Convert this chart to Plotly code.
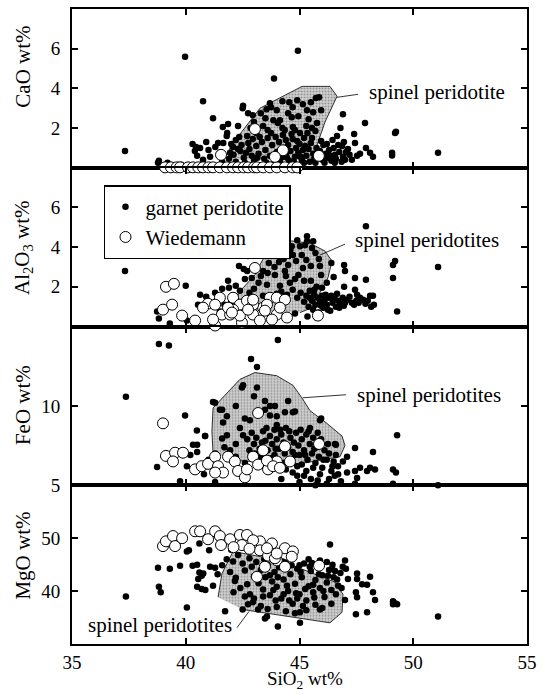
import plotly.graph_objects as go
from plotly.subplots import make_subplots

# ---------------- data (SiO2 wt%, oxide wt%) ----------------
cao_garnet = [
    (37.33,0.85),(39.97,5.6),(40.76,3.35),(38.78,0.25),(38.82,0.35),(39.2,0.25),(39.8,0.15),(40.45,1.05),
    (40.63,1.0),(40.5,0.6),(40.76,0.4),(41.07,0.55),(41.2,2.5),(41.63,2.05),(41.86,2.2),(42.3,2.1),(42.5,3.0),
    (42.52,3.12),(42.74,2.75),(41.42,1.25),(41.5,0.75),(42.08,1.05),(41.95,0.75),(43.88,4.5),(44.93,5.9),
    (40.3,1.2),(40.4,0.85),(40.9,1.3),(41.0,0.9),(41.3,1.05),(41.65,1.25),(41.8,1.6),(41.82,1.75),(42.0,1.2),
    (42.2,1.4),(42.35,1.55),(42.45,1.15),(42.7,1.6),(42.85,2.0),(43.0,2.3),(43.1,1.75),(43.3,2.75),(43.55,2.95),
    (43.75,3.05),(43.7,3.25),(44.0,2.9),(43.85,2.4),(44.05,2.25),(43.4,2.1),(44.14,2.4),(44.25,3.35),(44.55,3.3),
    (44.5,2.75),(44.66,2.55),(44.7,3.05),(44.9,3.4),(45.15,3.2),(45.33,2.9),(45.5,3.3),(45.72,3.52),(45.86,3.55),
    (45.6,2.8),(44.71,2.05),(45.02,1.75),(44.27,1.65),(45.77,2.25),(45.55,1.5),(44.8,1.9),(45.3,2.1),(45.7,1.85),
    (44.4,1.4),(44.9,1.35),(45.2,1.5),(46.65,1.6),(46.91,2.7),(46.87,1.1),(47.13,0.95),(47.4,1.7),(47.44,1.25),
    (47.53,0.6),(47.66,0.7),(47.88,2.25),(47.92,1.0),(48.1,0.75),(48.23,0.55),(49.07,0.75),(49.07,0.62),
    (49.2,1.75),(49.24,1.82),(51.09,0.75),(46.91,0.55),(46.56,0.65),(46.8,2.0),(46.95,1.3),
    (41.6,0.3),(41.9,0.45),(42.1,0.65),(42.2,0.3),(42.4,0.85),(42.55,0.5),(42.6,0.25),(42.8,0.95),(42.9,0.6),
    (43.0,0.35),(43.1,1.1),(43.2,0.7),(43.35,1.3),(43.45,0.45),(43.5,0.9),(43.6,1.5),(43.7,0.6),(43.8,1.15),
    (43.9,0.35),(44.0,0.8),(44.1,1.3),(44.2,0.5),(44.3,1.0),(44.4,0.7),(44.5,1.15),(44.55,0.35),(44.6,0.85),
    (44.7,1.45),(44.8,0.55),(44.85,1.0),(44.95,0.75),(45.0,1.2),(45.1,0.4),(45.15,0.9),(45.25,1.1),(45.3,0.6),
    (45.4,0.95),(45.45,0.3),(45.5,1.25),(45.6,0.7),(45.65,0.45),(45.75,1.0),(45.8,0.55),(45.9,0.85),(46.0,0.4),
    (46.05,1.15),(46.15,0.7),(46.25,0.5),(46.3,0.9),(46.4,0.35),(46.5,1.0),(46.6,0.45),(46.75,0.8),(47.0,0.4),
    (47.2,0.65),(43.25,1.55),(43.6,1.9),(44.35,1.9),(42.3,0.95),(42.75,1.25),
    (42.65,0.75),(42.95,1.45),(43.15,0.5),(43.55,0.25),(43.75,1.75),(43.95,1.55),(44.15,0.25),(44.25,2.0),
    (44.45,0.5),(44.65,1.7),(44.75,0.3),(45.05,0.55),(45.2,0.25),(45.35,1.75),(45.55,2.0),(45.7,0.25),
    (45.95,1.35),(46.1,0.25),(46.2,1.2),(46.35,0.6),(46.45,1.4),(46.55,0.25),(46.7,1.15),(46.85,0.3),
    (47.05,0.8),(47.3,0.4),(45.95,2.9),(45.4,2.45),(44.95,2.6),(43.5,2.5),(42.95,2.65),
]
cao_wiedemann = [
    (39.09,0.02),(39.35,0.02),(39.6,0.02),(39.75,0.02),(40.1,0.02),(40.32,0.02),(40.55,0.02),(40.76,0.02),
    (41.0,0.02),(41.2,0.02),(41.5,0.02),(41.81,0.02),(42.08,0.02),(42.3,0.02),(42.55,0.02),(42.74,0.02),
    (43.0,0.02),(43.13,0.02),(43.4,0.02),(43.7,0.02),(44.0,0.02),(44.36,0.02),(44.7,0.02),(44.9,0.02),
    (43.04,1.95),(44.27,0.88),(45.85,0.6),(41.55,0.65),(43.92,0.55),
]
cao_spinel_field = [(41.86,0.4),(41.95,1.05),(43.26,3.0),(45.11,4.1),(46.34,4.1),(46.65,3.6),
                    (46.12,2.3),(45.81,1.3),(45.55,0.4)]

al_garnet = [
    (37.33,2.8),(38.82,4.1),(40.0,2.05),(38.74,0.75),(38.82,0.4),(39.3,0.15),(40.05,0.3),(40.63,1.6),(40.54,1.1),
    (41.02,1.1),(41.5,0.75),(41.9,1.95),(41.86,2.3),(42.34,3.05),(42.69,3.7),(42.74,3.55),(43.13,3.8),(42.38,1.8),
    (41.29,1.7),(47.92,5.05),(46.96,3.1),(49.2,3.3),(49.11,3.1),(51.09,3.0),(47.44,2.45),(47.92,2.35),(49.11,2.45),
    (46.96,2.0),(47.44,1.85),(47.53,1.6),(47.66,1.45),(48.1,1.55),(48.23,1.55),(48.27,1.1),(49.29,0.75),
    (45.33,4.55),(45.33,4.3),(45.24,4.1),(45.55,3.95),(45.02,4.05),(44.66,4.05),(43.79,4.1),(44.05,3.7),(44.71,3.6),
    (45.9,3.05),(45.15,2.95),(43.4,2.8),(43.92,2.6),(44.36,2.8),(43.57,2.1),(44.14,2.05),(44.58,2.2),(45.99,1.95),
    (42.9,2.45),(43.2,2.2),(43.3,2.55),(43.6,2.7),(43.65,3.2),(43.9,3.0),(44.1,3.25),(44.3,3.4),(44.5,3.1),
    (44.6,3.85),(44.85,3.3),(44.95,2.6),(45.1,3.6),(45.3,3.35),(45.5,3.05),(45.7,3.7),(45.85,3.4),(44.2,1.75),
    (44.45,1.6),(44.7,1.85),(44.9,1.45),(45.05,1.7),(45.2,1.25),(45.3,1.55),(45.4,1.0),(45.45,1.8),(45.55,1.3),
    (45.6,0.85),(45.65,1.6),(45.7,1.1),(45.8,1.45),(45.85,0.7),(45.9,1.25),(46.0,1.55),(46.05,0.95),(46.1,1.3),
    (46.2,1.1),(46.3,1.45),(46.35,0.8),(46.45,1.2),(46.55,1.4),(46.6,1.0),(46.7,1.3),(46.8,1.15),(46.9,1.45),
    (47.0,1.2),(47.1,1.35),(47.3,1.2),(47.5,1.3),(45.35,0.5),(45.75,0.45),(42.0,1.25),(42.2,2.05),(42.6,2.4),
    (42.8,1.7),(43.0,1.9),(43.4,1.55),(43.8,1.4),(44.0,1.65),(41.6,1.9),(41.4,1.35),(40.9,1.5),(40.7,0.9),
    (41.7,1.1),(42.55,2.9),(42.7,2.8),(46.5,2.5),(46.4,3.2),(47.0,2.8),(44.15,0.9),(44.8,0.65),(45.95,2.6),(46.2,2.2),
    (45.45,1.45),(45.65,1.85),(45.95,1.05),(46.15,1.6),(46.25,0.85),(46.4,1.55),(46.65,1.65),(46.75,0.95),
    (46.95,1.05),(47.2,1.5),(47.4,1.1),(47.6,1.2),(47.8,1.35),(47.9,1.15),(48.0,1.3),(48.15,1.0),(45.5,2.3),
    (45.75,2.0),(45.2,2.3),(44.8,2.4),(44.4,2.55),(45.6,4.3),(44.9,4.35),(44.1,3.85),
]
al_wiedemann = [
    (39.13,2.0),(39.48,2.15),(39.0,0.85),(39.4,1.1),(39.84,0.55),(40.41,0.3),(40.98,1.15),(41.29,0.05),(41.59,0.6),
    (42.08,1.45),(42.38,1.1),(42.69,1.3),(43.04,2.95),(41.95,0.6),(42.47,0.2),(42.96,0.6),(43.4,0.95),(43.7,1.45),
    (42.96,1.1),(44.0,0.6),(43.26,0.3),(42.08,0.85),(45.81,0.55),(41.5,1.45),(43.57,1.1),(44.0,1.45),(44.36,1.35),
    (44.14,0.95),(44.45,0.45),(43.79,0.35),(42.38,0.55),(41.86,0.95),(41.29,1.1),(40.76,0.95),(41.2,0.35),
    (43.48,0.8),(42.74,0.85),(42.03,0.7),(42.96,1.35),
]
al_spinel_field = [(42.16,0.85),(42.08,1.2),(42.52,1.95),(43.04,2.6),(43.35,3.3),(43.79,4.05),(44.36,4.35),
                   (45.46,4.2),(46.12,3.8),(46.43,3.3),(46.25,2.45),(45.9,1.7),(45.55,0.95),(45.02,0.7)]

feo_garnet = [
    (37.37,10.58),(38.82,13.9),(39.26,13.8),(39.97,9.4),(38.74,6.15),(39.75,5.25),(40.05,6.2),(40.49,8.45),
    (40.85,8.1),(40.32,7.55),(40.5,7.55),(40.5,7.1),(41.29,10.2),(40.8,5.7),(41.29,5.2),(42.87,12.95),(43.13,12.45),
    (44.05,14.15),(42.47,11.15),(43.13,11.15),(41.81,9.35),(41.5,9.75),(49.29,8.15),(47.44,7.35),(48.23,7.1),
    (46.6,7.55),(45.95,9.2),(46.91,6.5),(47.09,6.8),(46.69,6.2),(47.09,5.8),(47.44,5.9),(47.66,6.1),(47.97,5.9),
    (48.1,6.1),(48.32,6.0),(49.11,6.0),(49.24,5.8),(46.82,5.25),(47.53,5.45),(47.44,5.1),(49.11,5.1),(51.09,5.0),
    (44.36,9.6),(44.71,9.6),(43.92,10.0),(43.7,9.4),(42.52,11.3),(41.2,10.25),(41.64,8.95),(41.6,9.75),
    (43.48,10.3),(43.7,10.0),(44.8,9.65),(44.0,9.35),(42.82,9.1),(42.6,9.2),(43.48,9.75),(44.0,8.8),(45.9,9.1),
    (45.46,8.6),(46.56,7.6),(41.81,8.15),(41.6,7.95),(42.38,8.6),(42.52,8.15),(40.85,8.1),
    (42.7,7.9),(42.9,8.3),(43.0,7.6),(43.1,8.0),(43.25,7.3),(43.4,8.4),(43.5,7.8),(43.6,7.2),(43.7,8.1),
    (43.8,7.6),(43.9,8.5),(44.0,7.9),(44.1,7.3),(44.2,8.2),(44.3,7.7),(44.4,8.6),(44.5,7.4),(44.6,8.0),(44.7,7.1),
    (44.75,7.7),(44.85,8.3),(44.95,7.5),(45.0,6.9),(45.1,7.9),(45.2,7.2),(45.3,8.2),(45.35,6.6),(45.45,7.6),
    (45.55,7.0),(45.6,8.0),(45.7,6.4),(45.75,7.4),(45.85,6.8),(45.95,7.9),(46.0,6.1),(46.1,7.2),(46.2,6.6),
    (46.3,7.0),(46.4,5.9),(46.5,6.5),(46.6,6.9),(44.9,6.2),(44.7,5.8),(45.2,5.6),(45.5,5.4),(45.9,5.7),(44.4,6.0),
    (44.6,6.6),(45.1,6.3),(45.6,6.1),(44.2,5.4),(45.0,5.2),(45.8,5.3),(46.3,5.4),(42.8,7.2),(42.2,7.6),(41.95,7.2),
    (41.7,7.4),(41.3,7.0),(41.0,6.6),(42.2,6.8),(40.2,6.9),(43.3,6.8),(43.9,6.9),(42.6,6.4),(44.5,10.3),(43.0,10.6),
    (42.2,10.0),
    (43.05,7.0),(43.35,7.7),(43.55,8.6),(43.75,6.7),(43.95,7.3),(44.15,8.5),(44.35,7.0),(44.55,8.4),(44.8,6.9),
    (45.05,8.5),(45.25,6.9),(45.4,8.4),(45.65,7.3),(45.8,8.3),(46.05,6.6),(46.25,7.6),(46.45,6.2),(46.55,5.6),
    (46.2,5.1),(45.7,5.0),(44.9,5.6),(44.3,6.4),(42.9,6.9),(43.4,6.2),(45.3,5.9),(46.7,5.7),
]
feo_wiedemann = [
    (39.0,8.9),(39.13,6.85),(39.53,7.05),(39.88,7.05),(39.44,6.5),(40.41,6.0),(40.7,6.2),(40.98,6.35),(41.29,6.8),
    (41.42,6.2),(41.64,5.8),(41.29,5.8),(41.86,6.8),(42.16,6.5),(42.3,5.9),(42.6,5.5),(42.69,6.0),(42.96,6.8),
    (43.18,6.3),(43.18,9.55),(43.62,6.0),(44.0,6.5),(43.4,7.2),(43.57,6.55),(43.84,6.2),(44.14,6.1),(44.36,7.45),
    (44.58,6.5),(45.86,7.6),
]
feo_spinel_field = [(41.2,7.0),(41.15,8.4),(41.2,9.87),(41.73,10.7),(42.38,11.67),(43.04,12.1),(44.0,11.9),
                    (44.71,11.3),(45.11,10.5),(45.46,9.7),(46.2,8.9),(46.87,8.1),(47.0,7.5),(46.78,6.8),
                    (45.02,6.35),(42.38,6.54)]

mgo_garnet = [
    (37.37,39.0),(38.78,44.4),(38.82,40.8),(38.9,39.8),(39.3,44.2),(39.75,44.8),(40.05,36.9),(40.05,47.5),
    (40.14,47.7),(40.3,44.8),(40.5,45.0),(40.6,43.5),(40.7,42.9),(40.55,42.3),(40.77,43.3),(40.5,40.8),(40.7,40.4),
    (40.86,40.2),(40.6,49.0),(41.07,44.6),(41.29,44.4),(41.2,41.0),(41.03,47.7),(41.73,36.2),(42.08,45.6),
    (41.95,43.6),(42.16,41.9),(42.5,36.5),(42.74,37.5),(42.96,37.9),(43.18,36.5),(42.6,39.0),(42.82,39.4),
    (43.57,35.2),(44.05,33.3),(46.34,48.8),(47.0,45.8),(47.04,44.2),(46.43,44.2),(46.56,43.8),(47.53,43.3),
    (47.53,42.3),(47.13,42.3),(48.1,42.7),(47.75,41.3),(47.97,41.2),(48.23,39.8),(48.32,38.3),(47.48,39.8),
    (47.53,38.85),(47.0,38.3),(49.11,38.1),(49.2,37.7),(49.29,37.5),(49.11,37.5),(47.48,35.6),(47.97,36.0),
    (51.09,35.2),(45.02,34.0),(43.48,34.8),(45.9,36.5),(45.02,36.0),
    (42.3,46.8),(42.5,45.2),(42.6,43.9),(42.8,46.2),(42.9,44.6),(43.0,42.8),(43.1,45.5),(43.2,41.5),(43.3,44.0),
    (43.4,40.3),(43.5,42.6),(43.6,45.0),(43.7,39.2),(43.8,41.8),(43.9,43.6),(44.0,40.8),(44.1,44.5),(44.2,38.6),
    (44.3,42.2),(44.4,45.4),(44.5,40.0),(44.6,43.2),(44.7,37.6),(44.8,41.4),(44.9,44.2),(45.0,39.4),(45.1,42.6),
    (45.2,45.2),(45.3,38.2),(45.4,40.9),(45.5,43.8),(45.6,39.8),(45.7,42.1),(45.8,44.6),(45.9,40.6),(46.0,43.0),
    (46.1,38.9),(46.2,41.6),(46.3,44.0),(46.4,40.2),(46.5,42.6),(46.6,39.4),(46.7,41.0),(46.8,43.4),(42.2,42.5),
    (42.4,40.6),(42.7,41.3),(43.0,38.6),(43.3,37.2),(43.6,36.6),(44.0,37.0),(44.4,36.2),(44.8,35.8),(45.3,36.4),
    (45.7,37.4),(46.0,36.8),(46.4,37.6),(43.9,46.3),(44.6,46.7),(45.4,46.0),(45.9,45.8),(46.2,45.5),(42.0,47.8),
    (41.8,46.0),(41.6,44.9),(41.4,43.2),(42.1,39.8),(44.3,39.4),(45.6,41.2),(44.9,38.6),(43.7,43.0),(45.0,44.9),
    (43.15,43.2),(43.45,46.0),(43.85,40.2),(44.05,42.6),(44.25,45.6),(44.45,41.0),(44.65,44.9),(44.85,39.6),
    (45.05,43.6),(45.25,40.4),(45.45,44.6),(45.65,38.8),(45.85,43.2),(46.05,40.0),(46.25,42.9),(46.45,45.0),
    (46.65,42.2),(46.85,40.6),(45.15,37.2),(44.55,38.2),(43.95,38.2),(43.4,39.0),(46.9,44.6),(45.55,45.3),
]
mgo_wiedemann = [
    (39.0,48.5),(39.13,49.4),(39.44,50.4),(39.53,48.5),(39.84,50.0),(40.41,51.3),(40.63,51.3),(40.98,49.8),
    (41.29,51.3),(41.5,50.4),(41.55,48.7),(41.95,49.8),(42.38,50.6),(42.69,50.6),(42.47,48.7),(43.26,49.4),
    (43.26,47.7),(43.62,46.7),(43.13,42.7),(43.79,49.0),(42.96,49.6),(44.0,45.8),(44.36,48.1),(44.71,47.5),
    (44.66,46.5),(43.92,46.2),(44.36,44.6),(43.48,44.6),(45.86,44.8),(43.57,48.1),(44.0,47.1),(42.1,48.3),(42.8,48.0),
]
mgo_spinel_field = [(41.42,38.85),(41.59,43.3),(42.08,47.5),(44.14,45.8),(46.56,41.7),(46.91,39.4),
                    (46.87,36.0),(46.34,34.0),(42.52,36.5)]

panel_titles = ["CaO wt%", "Al<sub>2</sub>O<sub>3</sub> wt%", "FeO wt%", "MgO wt%"]
y_ranges = [[0, 8], [0, 8], [5, 15], [30, 60]]
y_ticks = [[2, 4, 6], [2, 4, 6], [5, 10], [40, 50]]
x_ticks = [35, 40, 45, 50, 55]
field_labels = ["spinel peridotite", "spinel peridotites", "spinel peridotites", "spinel peridotites"]

# ---------------- figure ----------------
FONT = "Liberation Serif"
fig = make_subplots(rows=4, cols=1, shared_xaxes=True, vertical_spacing=0)

panels = [
    (cao_garnet, cao_wiedemann, cao_spinel_field),
    (al_garnet, al_wiedemann, al_spinel_field),
    (feo_garnet, feo_wiedemann, feo_spinel_field),
    (mgo_garnet, mgo_wiedemann, mgo_spinel_field),
]

def split(pts):
    return [p[0] for p in pts], [p[1] for p in pts]

for i, (garnet, wied, field) in enumerate(panels):
    row = i + 1
    fx, fy = split(field)
    fig.add_trace(go.Scatter(
        x=fx, y=fy, mode="lines", fill="toself",
        fillcolor="#c4c4c4",
        fillpattern=dict(shape=".", fgcolor="#555555", bgcolor="#d2d2d2", size=3, solidity=0.4),
        line=dict(color="black", width=0.8), showlegend=False, hoverinfo="skip"), row=row, col=1)
    gx, gy = split(garnet)
    fig.add_trace(go.Scatter(
        x=gx, y=gy, mode="markers", name="garnet peridotite",
        marker=dict(color="black", size=6.5, line=dict(width=0)),
        showlegend=(i == 0), legendrank=1, cliponaxis=False), row=row, col=1)
    wx, wy = split(wied)
    fig.add_trace(go.Scatter(
        x=wx, y=wy, mode="markers", name="Wiedemann",
        marker=dict(color="white", size=11, line=dict(color="black", width=1)),
        showlegend=(i == 0), legendrank=2, cliponaxis=False), row=row, col=1)

for i in range(4):
    row = i + 1
    fig.update_yaxes(row=row, col=1, range=y_ranges[i], tickvals=y_ticks[i],
                     ticks="inside", ticklen=6, tickwidth=2, tickcolor="black",
                     showline=True, linewidth=2, linecolor="black", mirror="ticks",
                     showgrid=False, zeroline=False, ticklabelstandoff=6, automargin=False,
                     layer="below traces",
                     tickfont=dict(family=FONT, size=19, color="black"))
    fig.update_xaxes(row=row, col=1, range=[35, 55], tickvals=x_ticks,
                     ticks="inside", ticklen=6, tickwidth=2, tickcolor="black",
                     showline=True, linewidth=2, linecolor="black", mirror="ticks",
                     showgrid=False, zeroline=False, showticklabels=(row == 4), automargin=False,
                     layer="below traces",
                     tickfont=dict(family=FONT, size=19, color="black"))

# y titles
title_pos = [0.909, 0.625, 0.376, 0.139]
for t, yp in zip(panel_titles, title_pos):
    fig.add_annotation(text=t, xref="paper", yref="paper", x=-0.108, y=yp,
                       textangle=-90, showarrow=False, xanchor="center", yanchor="middle",
                       font=dict(family=FONT, size=21, color="black"))
fig.add_annotation(text="SiO<sub>2</sub> wt%", xref="paper", yref="paper", x=0.512, y=-0.057,
                   showarrow=False, xanchor="center", yanchor="middle",
                   font=dict(family=FONT, size=19, color="black"))

# field labels with leader lines
label_pos = [(47.97, 3.8), (47.35, 4.35), (47.44, 10.7), (35.62, 33.65)]
leaders = [((46.65, 3.55), (47.57, 3.7)), ((45.9, 3.6), (47.0, 4.15)),
           ((45.15, 10.51), (47.04, 10.7)), ((42.25, 33.08), (42.78, 36.15))]
axes_ids = [("x", "y"), ("x2", "y2"), ("x3", "y3"), ("x4", "y4")]
for (lx, ly), txt, ((x0, y0), (x1, y1)), (xa, ya) in zip(label_pos, field_labels, leaders, axes_ids):
    fig.add_annotation(text=txt, xref=xa, yref=ya, x=lx, y=ly, showarrow=False,
                       xanchor="left", yanchor="middle",
                       font=dict(family=FONT, size=21, color="black"))
    fig.add_shape(type="line", xref=xa, yref=ya, x0=x0, y0=y0, x1=x1, y1=y1,
                  line=dict(color="black", width=0.8))

fig.update_layout(
    width=548, height=695,
    margin=dict(l=72, r=21, t=9, b=51, autoexpand=False),
    paper_bgcolor="white", plot_bgcolor="white",
    font=dict(family=FONT, color="black"),
    legend=dict(x=0.0703, y=0.7228, xanchor="left", yanchor="top",
                bgcolor="white", bordercolor="black", borderwidth=1.5,
                font=dict(family=FONT, size=21, color="black"),
                tracegroupgap=0, itemwidth=30),
    showlegend=True,
)

fig.write_html("out.html", config={"displayModeBar": False},
               post_script="document.body.style.margin='0';document.body.style.padding='0';")
